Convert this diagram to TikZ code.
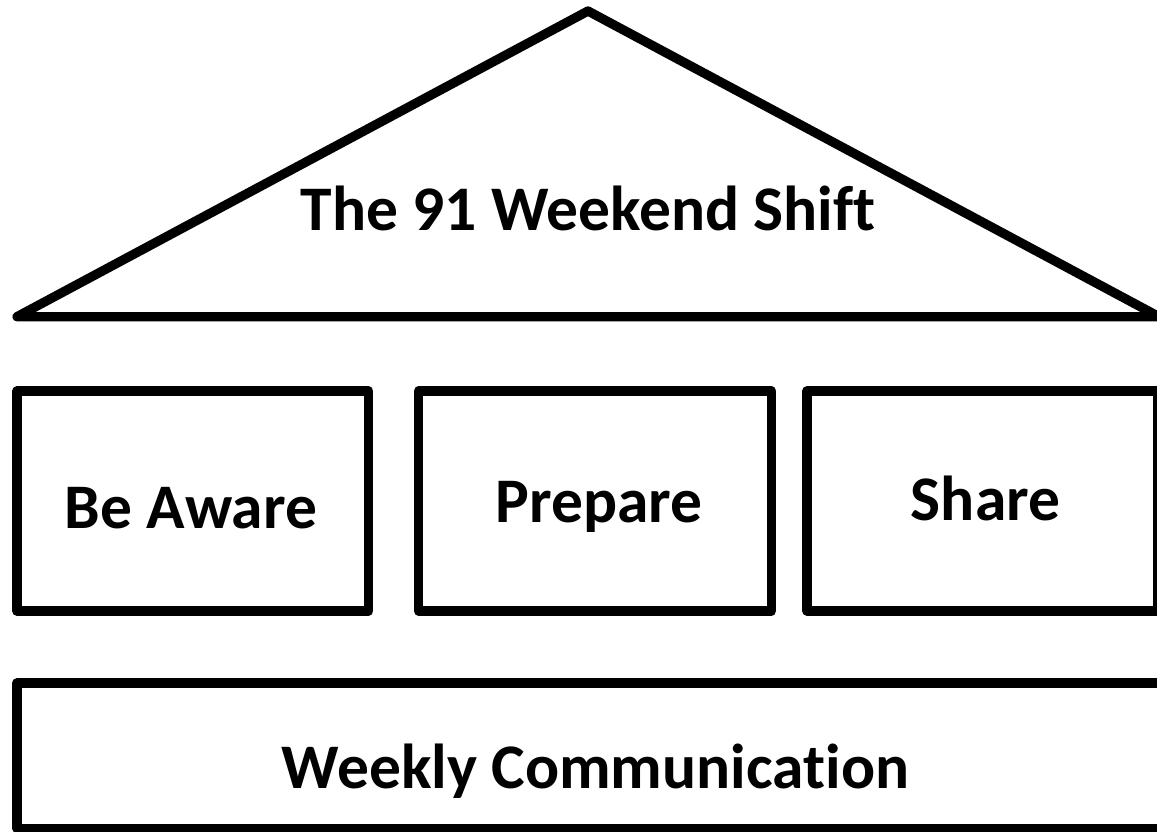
\documentclass[tikz,border=0pt]{standalone}
\usepackage{fontspec}
\setmainfont{Carlito}[Ligatures=NoCommon]
\begin{document}
\begin{tikzpicture}[x=1pt,y=-1pt,
  frame/.style={draw=black,line width=9.3pt,line join=round},
  label/.style={anchor=base,inner sep=0pt,font=\bfseries\fontsize{63.5}{70}\selectfont}]
\useasboundingbox (0,0) rectangle (1157,831);
% roof
\coordinate (roofL) at (17,316.7);
\coordinate (roofT) at (588,11);
\coordinate (roofR) at (1159,316.7);
\draw[frame] (roofL) -- (roofT) -- (roofR) -- cycle;
% pillars
\draw[frame] (17,391) rectangle (368.7,611);
\draw[frame] (418.7,391) rectangle (771.3,611);
\draw[frame] (807,391) rectangle (1158,611);
% foundation
\draw[frame] (1175,683) -- (17,683) -- (17,828.3) -- (1175,828.3);
% texts
\node[label] (title) at (588,230) {The 91 Weekend Shift};
\node[label] (aware) at (191,528) {Be Aware};
\node[label] (prep) at (599,522) {Prepare};
\node[label] (share) at (985.5,520) {Share};
\node[label] (weekly) at (595.5,788) {Weekly Communication};
\end{tikzpicture}
\end{document}
